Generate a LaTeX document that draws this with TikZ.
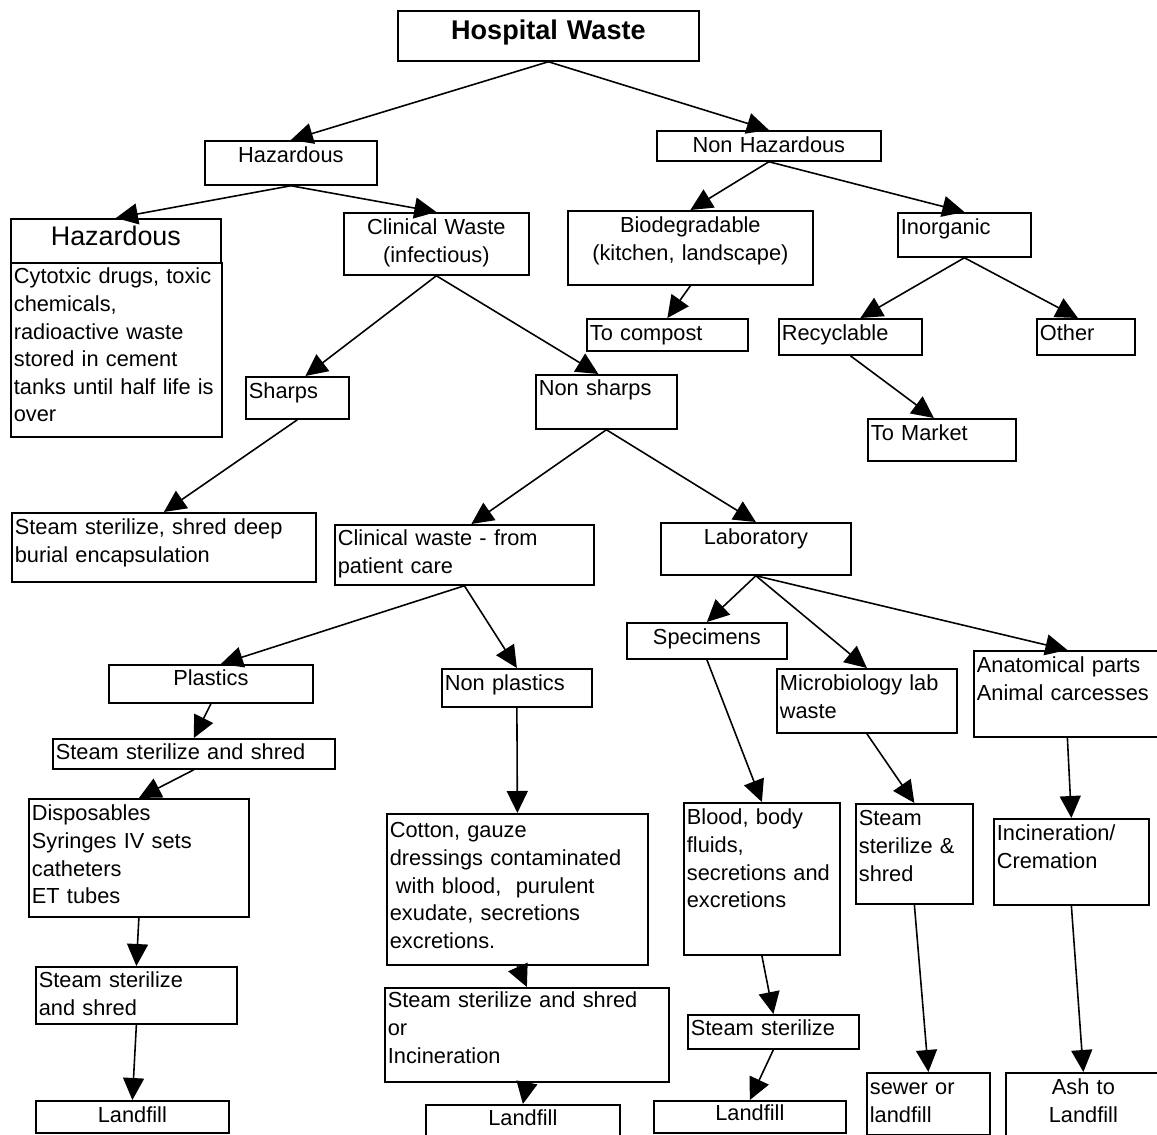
\documentclass[tikz,border=0pt]{standalone}
\usepackage{fontspec}
\setmainfont{Liberation Sans}
\usetikzlibrary{arrows.meta}
\newlength\px
\setlength\px{0.02cm}

\begin{document}
\begin{tikzpicture}[
    x=0.02cm, y=-0.02cm,
    box/.style={rectangle, draw, line width=1pt, anchor=north west, inner xsep=3\px, inner ysep=0pt, align=left, font=\fontsize{12.4}{15.7}\selectfont},
    dims/.style n args={3}{text width=#1\px, text height=#2\px, text depth=#3\px},
    mid/.style={align=center},
    big/.style={font=\fontsize{15.3}{18}\selectfont},
    arrow/.style={-{Triangle[length=0.44cm, width=0.42cm]}, line width=0.9pt}
]
\useasboundingbox (0,0) rectangle (1157,1135);

% Top level
\node[box, mid, dims={295}{29}{21}, font=\fontsize{15.4}{18}\selectfont\bfseries] (hw) at (397,10) {Hospital Waste};
\node[box, mid, dims={166}{22}{22}] (haz) at (204,140) {Hazardous};
\node[box, mid, dims={218}{22}{8}] (nonhaz) at (656,130) {Non Hazardous};

% Hazardous branch
\node[box, mid, big, dims={204}{27}{17}] (hazbig) at (10,218) {Hazardous};
\node[box, dims={205}{21}{153}] (cyto) at (10,262) {Cytotxic drugs, toxic\\chemicals,\\radioactive waste\\stored in cement\\tanks until half life is\\over};
\node[box, mid, dims={179}{22}{40}] (clin) at (343,212) {Clinical Waste\\(infectious)};
\node[box, dims={97}{22}{20}] (sharps) at (245,376) {Sharps};
\node[box, dims={135}{21}{33}] (nonsharps) at (535,374) {Non sharps};
\node[box, dims={298}{22}{47}] (deep) at (11,512) {Steam sterilize, shred deep\\burial encapsulation};

% Non hazardous branch
\node[box, mid, dims={239}{22}{52}] (bio) at (567,210) {Biodegradable\\(kitchen, landscape)};
\node[box, dims={127}{22}{22}] (inorg) at (897,212) {Inorganic};
\node[box, dims={155}{22}{10}] (compost) at (586,318) {To compost};
\node[box, dims={137}{22}{14}] (recyc) at (778,318) {Recyclable};
\node[box, dims={92}{22}{14}] (other) at (1036,318) {Other};
\node[box, dims={142}{22}{20}] (market) at (867,418) {To Market};

% Patient care
\node[box, dims={253}{21}{39}] (patient) at (334,524) {Clinical waste - from\\patient care};
\node[box, mid, dims={198}{21}{17}] (plastics) at (108,664) {Plastics};
\node[box, dims={144}{22}{16}] (nonplastics) at (441,668) {Non plastics};
\node[box, dims={276}{21}{9}] (steamp) at (52,738) {Steam sterilize and shred};
\node[box, dims={214}{22}{96}] (disp) at (28,798) {Disposables\\Syringes IV sets\\catheters\\ET tubes};
\node[box, dims={195}{21}{36}] (steaml) at (35,966) {Steam sterilize\\and shred};
\node[box, mid, dims={187}{22}{10}] (landl) at (35,1100) {Landfill};
\node[box, dims={255}{24}{127}] (cotton) at (386,813) {Cotton, gauze\\dressings contaminated\\\hspace*{0.28em}with blood,\ \ purulent\\exudate, secretions\\excretions.};
\node[box, dims={278}{20}{74}] (steamm) at (384,987) {Steam sterilize and shred\\or\\Incineration};
\node[box, mid, dims={188}{21}{19}] (landm) at (425,1104) {Landfill};

% Laboratory
\node[box, mid, dims={184}{22}{30}] (lab) at (660,522) {Laboratory};
\node[box, mid, dims={154}{22}{14}] (spec) at (626,622) {Specimens};
\node[box, dims={174}{22}{42}] (micro) at (776,668) {Microbiology lab\\waste};
\node[box, dims={181}{22}{64}] (anat) at (973,650) {Anatomical parts\\Animal carcesses};
\node[box, dims={150}{22}{130}] (blood) at (683,802) {Blood, body\\fluids,\\secretions and\\excretions};
\node[box, dims={111}{22}{78}] (micsteam) at (855,803) {Steam\\sterilize \&\\shred};
\node[box, dims={149}{22}{64}] (incin) at (993,818) {Incineration/\\Cremation};
\node[box, dims={165}{21}{13}] (steamb) at (687,1014) {Steam sterilize};
\node[box, mid, dims={186}{20}{12}] (landb) at (653,1100) {Landfill};
\node[box, dims={117}{22}{40}] (sewer) at (866,1072) {sewer or\\landfill};
\node[box, mid, dims={149}{22}{46}] (ash) at (1005,1072) {Ash to\\Landfill};

% Arrows
\draw[arrow] (hw.south) -- (haz.north);
\draw[arrow] (hw.south) -- (nonhaz.north);
\draw[arrow] (haz.south) -- (hazbig.north);
\draw[arrow] (haz.south) -- (clin.north);
\draw[arrow] (nonhaz.south) -- (bio.north);
\draw[arrow] (nonhaz.south) -- (inorg.north);
\draw[arrow] (clin.south) -- ([xshift=8\px]sharps.north);
\draw[arrow] (clin.south) -- ([xshift=-8\px]nonsharps.north);
\draw[arrow] (bio.south) -- (compost.north);
\draw[arrow] (inorg.south) -- ([xshift=10\px]recyc.north);
\draw[arrow] (inorg.south) -- ([xshift=-8\px]other.north);
\draw[arrow] (recyc.south) -- ([xshift=-8\px]market.north);
\draw[arrow] (sharps.south) -- (deep.north);
\draw[arrow] (nonsharps.south) -- ([xshift=7\px]patient.north);
\draw[arrow] (nonsharps.south) -- (lab.north);
\draw[arrow] (patient.south) -- ([xshift=10\px]plastics.north);
\draw[arrow] (patient.south) -- (nonplastics.north);
\draw[arrow] (plastics.south) -- (steamp.north);
\draw[arrow] (steamp.south) -- (disp.north);
\draw[arrow] (disp.south) -- (steaml.north);
\draw[arrow] (steaml.south) -- (landl.north);
\draw[arrow] (nonplastics.south) -- (cotton.north);
\draw[arrow] (cotton.south) -- (steamm.north);
\draw[arrow] (steamm.south) -- (landm.north);
\draw[arrow] (lab.south) -- (spec.north);
\draw[arrow] (lab.south) -- (micro.north);
\draw[arrow] (lab.south) -- (anat.north);
\draw[arrow] (spec.south) -- (blood.north);
\draw[arrow] (micro.south) -- (micsteam.north);
\draw[arrow] (anat.south) -- (incin.north);
\draw[arrow] (blood.south) -- (steamb.north);
\draw[arrow] (steamb.south) -- (landb.north);
\draw[arrow] (micsteam.south) -- (sewer.north);
\draw[arrow] (incin.south) -- (ash.north);

\end{tikzpicture}
\end{document}
